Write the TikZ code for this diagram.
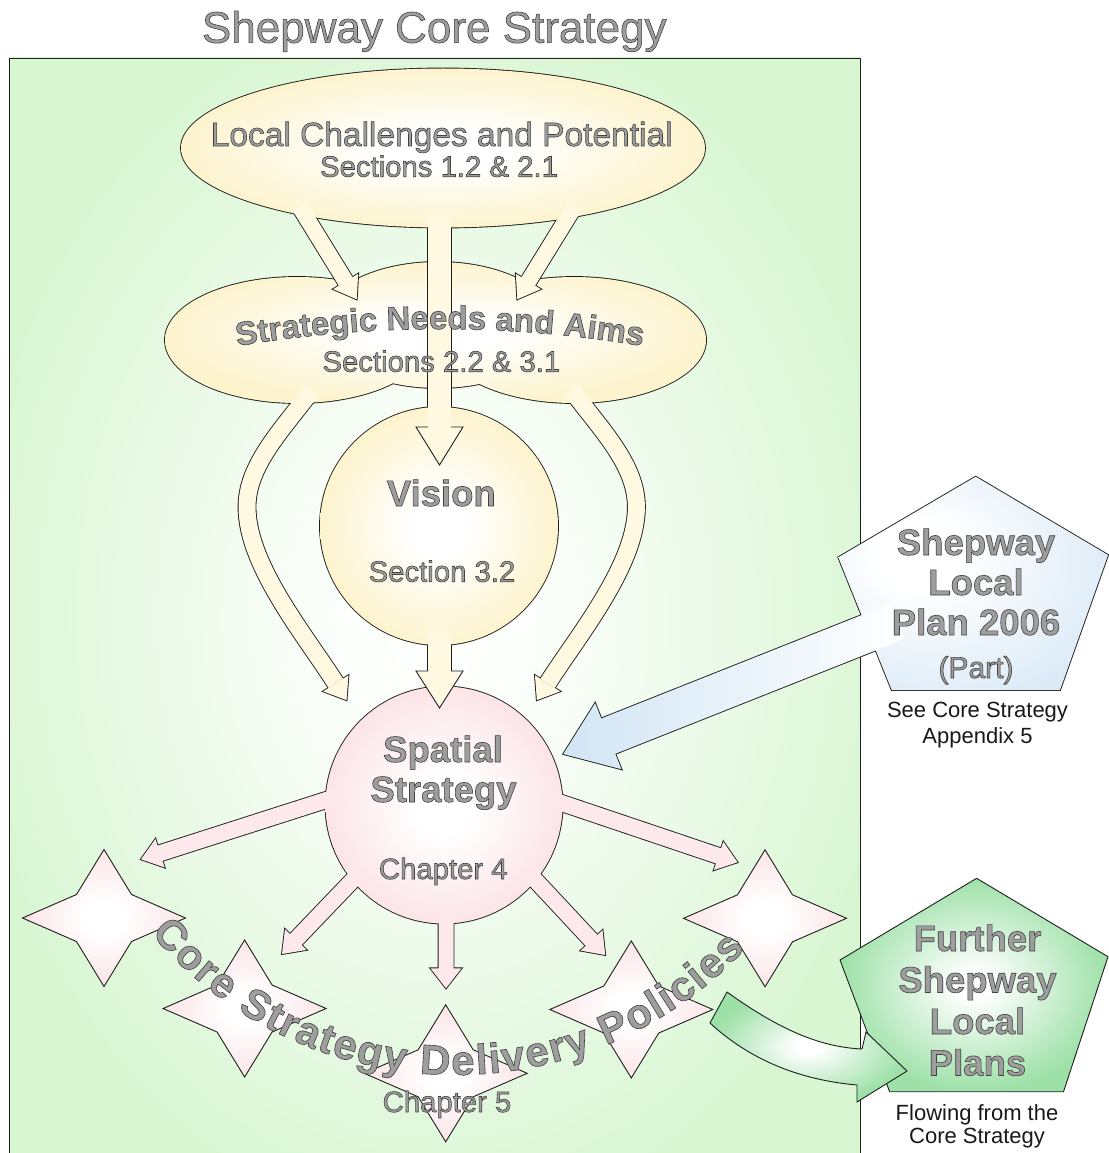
\documentclass[tikz,border=0pt]{standalone}
\usepackage{fontspec}
\setmainfont{Liberation Sans}
\usetikzlibrary{calc,decorations.text}

\definecolor{bggreen}{RGB}{216,246,210}
\definecolor{creamY}{RGB}{253,244,206}
\definecolor{arrowY}{RGB}{255,249,226}
\definecolor{pinkP}{RGB}{252,228,231}
\definecolor{arrowP}{RGB}{253,233,235}
\definecolor{blueB}{RGB}{210,229,245}
\definecolor{greenG}{RGB}{158,225,168}
\definecolor{txtfill}{RGB}{158,158,158}
\definecolor{lineC}{RGB}{30,30,30}
\definecolor{capC}{RGB}{25,25,25}

\pgfdeclareradialshading{glowBG}{\pgfpoint{0bp}{0bp}}{color(0bp)=(white); color(8bp)=(white!85!bggreen); color(28bp)=(bggreen); color(50bp)=(bggreen)}
\pgfdeclareradialshading{glowY}{\pgfpoint{0bp}{0bp}}{color(0bp)=(white); color(6bp)=(white); color(25bp)=(creamY); color(50bp)=(creamY)}
\pgfdeclareradialshading{glowP}{\pgfpoint{0bp}{0bp}}{color(0bp)=(white); color(6bp)=(white); color(25bp)=(pinkP); color(50bp)=(pinkP)}
\pgfdeclareradialshading{glowG}{\pgfpoint{0bp}{0bp}}{color(0bp)=(white); color(3bp)=(white); color(25bp)=(greenG); color(50bp)=(greenG)}
\pgfdeclareradialshading{glowB}{\pgfpoint{-12bp}{8bp}}{color(0bp)=(white); color(8bp)=(white); color(40bp)=(blueB); color(60bp)=(blueB)}

\newcommand\olon{\special{pdf:literal direct 2 Tr 0.6 w 0.25 0.25 0.25 RG}}
\newcommand\oloff{\special{pdf:literal direct 0 Tr}}
\newcommand\ot[1]{\olon#1\oloff}

% straight block arrow: style, start, tip, shaft half width, head half width, head length
\newcommand\arrowshape[6]{%
  \coordinate (aB) at ($(#3)!#6pt!(#2)$);
  \path[#1] ($(#2)!#4pt!90:(#3)$) -- ($(aB)!#4pt!90:(#3)$) -- ($(aB)!#5pt!90:(#3)$) -- (#3)
     -- ($(aB)!#5pt!-90:(#3)$) -- ($(aB)!#4pt!-90:(#3)$) -- ($(#2)!#4pt!-90:(#3)$) -- cycle;}

\newcommand\fourstar[1]{%
  \shadedraw[starst] ($(#1)+(0,-68.5)$) -- ($(#1)+(27.5,-23.5)$) -- ($(#1)+(81.5,0)$) -- ($(#1)+(27.5,23.5)$)
   -- ($(#1)+(0,68.5)$) -- ($(#1)+(-27.5,23.5)$) -- ($(#1)+(-81.5,0)$) -- ($(#1)+(-27.5,-23.5)$) -- cycle;}

\begin{document}
\begin{tikzpicture}[x=1pt,y=-1pt,
  outl/.style={draw=lineC,line width=1.8pt,line join=miter},
  thinln/.style={draw=lineC,line width=0.9pt,line join=miter},
  starst/.style={shading=glowP,draw=lineC,line width=0.9pt,line join=miter},
  lbl/.style={anchor=base,inner sep=0pt,text=txtfill},
  capt/.style={anchor=base,inner sep=0pt,text=capC,font=\fontsize{22}{22}\selectfont},
  big/.style={font=\fontsize{36.5}{40}\selectfont\bfseries},
  sub/.style={font=\fontsize{29.3}{33}\selectfont}]
\useasboundingbox (0,0) rectangle (1108,1153);
\fill[white] (0,0) rectangle (1108,1153);

% background panel
\shadedraw[shading=glowBG,draw=lineC,line width=0.9pt] (9,58) rectangle (860,1175);

% ---------- coordinates ----------
\coordinate (lc) at (443,148);
\coordinate (vis) at (439,526);
\coordinate (spa) at (444,805);
% curved arrows (left)
\coordinate (cl0) at (312,390); \coordinate (cl1) at (282,430); \coordinate (cl2) at (247,465);
\coordinate (cl3) at (247,507); \coordinate (cl4) at (247,565); \coordinate (cl5) at (305,635);
\coordinate (cl6) at (335.8,683.3);
\coordinate (clT) at ($(cl6)!-20pt!(cl5)$);
\coordinate (clA) at ($(cl6)!15pt!90:(clT)$); \coordinate (clB) at ($(cl6)!15pt!-90:(clT)$);
% curved arrows (right)
\coordinate (cr0) at (571.4,390); \coordinate (cr1) at (601.4,430); \coordinate (cr2) at (636.4,465);
\coordinate (cr3) at (636.4,507); \coordinate (cr4) at (636.4,565); \coordinate (cr5) at (578.4,635);
\coordinate (cr6) at (547.6,683.3);
\coordinate (crT) at ($(cr6)!-20pt!(cr5)$);
\coordinate (crA) at ($(cr6)!15pt!90:(crT)$); \coordinate (crB) at ($(cr6)!15pt!-90:(crT)$);
% diagonal arrows
\coordinate (dlS) at (299.2,206); \coordinate (dlT) at (356.7,299.3);
\coordinate (drS) at (574.8,206); \coordinate (drT) at (517.3,299.3);
% spatial outward arrows
\coordinate (o1S) at (334,797.5);   \coordinate (o1T) at (141,859.3);
\coordinate (o2S) at (357.8,874.8); \coordinate (o2T) at (282,954);
\coordinate (o3S) at (446,912);     \coordinate (o3T) at (446,988.3);
\coordinate (o4S) at (530.3,874.7); \coordinate (o4T) at (605.2,955);
\coordinate (o5S) at (553,800.1);   \coordinate (o5T) at (737.5,862.3);
% blue
\coordinate (bp1) at (975.7,476.7); \coordinate (bp2) at (1108,555); \coordinate (bp3) at (1060,690);
\coordinate (bp4) at (891.7,690); \coordinate (bp5) at (838.3,557.3);
\coordinate (bS) at (897.7,621.2); \coordinate (bT) at (563.3,754);
% green
\coordinate (gp1) at (976.6,878.3); \coordinate (gp2) at (1108,956.7); \coordinate (gp3) at (1063.5,1091.7);
\coordinate (gp4) at (889.6,1091.7); \coordinate (gp5) at (840,960);
% stars
\coordinate (st1) at (104,918); \coordinate (st2) at (244.6,1008.5); \coordinate (st3) at (445.7,1073.3);
\coordinate (st4) at (631.3,1009.5); \coordinate (st5) at (765,918.3);

% ---------- group 1 : strategic needs ----------
\draw[outl] (297,340) ellipse[x radius=132,y radius=63] (438,325) ellipse[x radius=118,y radius=63] (574,340) ellipse[x radius=132,y radius=63];
\draw[draw=lineC,line width=18.8pt] (cl0) .. controls (cl1) and (cl2) .. (cl3) .. controls (cl4) and (cl5) .. (cl6);
\draw[draw=lineC,line width=18.8pt] (cr0) .. controls (cr1) and (cr2) .. (cr3) .. controls (cr4) and (cr5) .. (cr6);
\draw[outl] (clA) -- (clT) -- (clB) -- cycle;
\draw[outl] (crA) -- (crT) -- (crB) -- cycle;
\shade[shading=glowY] (297,340) ellipse[x radius=132,y radius=63] (438,325) ellipse[x radius=118,y radius=63] (574,340) ellipse[x radius=132,y radius=63];
\draw[arrowY,line width=17pt] (cl0) .. controls (cl1) and (cl2) .. (cl3) .. controls (cl4) and (cl5) .. (cl6);
\draw[arrowY,line width=17pt] (cr0) .. controls (cr1) and (cr2) .. (cr3) .. controls (cr4) and (cr5) .. (cr6);
\fill[arrowY] (clA) -- (clT) -- (clB) -- cycle;
\fill[arrowY] (crA) -- (crT) -- (crB) -- cycle;

% ---------- group 2 : challenges, vision, spatial ----------
\draw[outl] (lc) ellipse[x radius=262,y radius=79.5];
\arrowshape{outl}{dlS}{dlT}{8}{14.7}{21}
\arrowshape{outl}{drS}{drT}{8}{14.7}{21}
\draw[outl] (428,215) rectangle (451,432);
\draw[outl] (vis) circle[radius=119];
\draw[outl] (428,630) rectangle (451,676);
\draw[outl] (spa) circle[radius=118.5];
\arrowshape{outl}{o1S}{o1T}{8}{15}{20}
\arrowshape{outl}{o2S}{o2T}{8}{15}{20}
\arrowshape{outl}{o3S}{o3T}{7.5}{15.5}{20}
\arrowshape{outl}{o4S}{o4T}{8}{15}{20}
\arrowshape{outl}{o5S}{o5T}{8}{15}{20}
\shade[shading=glowY] (lc) ellipse[x radius=262,y radius=79.5];
\shade[shading=glowY] (vis) circle[radius=119];
\shade[shading=glowP] (spa) circle[radius=118.5];
\arrowshape{fill=arrowY}{dlS}{dlT}{8}{14.7}{21}
\arrowshape{fill=arrowY}{drS}{drT}{8}{14.7}{21}
\fill[arrowY] (428,215) rectangle (451,432);
\fill[arrowY] (428,630) rectangle (451,676);
\arrowshape{fill=arrowP}{o1S}{o1T}{8}{15}{20}
\arrowshape{fill=arrowP}{o2S}{o2T}{8}{15}{20}
\arrowshape{fill=arrowP}{o3S}{o3T}{7.5}{15.5}{20}
\arrowshape{fill=arrowP}{o4S}{o4T}{8}{15}{20}
\arrowshape{fill=arrowP}{o5S}{o5T}{8}{15}{20}
% heads entering the circles
\fill[arrowY] (428,427) -- (416,427) -- (439.5,465) -- (463,427) -- (451,427) -- cycle;
\draw[thinln] (428,427) -- (416,427) -- (439.5,465) -- (463,427) -- (451,427);
\fill[arrowY] (428,671) -- (416,671) -- (439.5,708) -- (463,671) -- (451,671) -- cycle;
\draw[thinln] (428,671) -- (416,671) -- (439.5,708) -- (463,671) -- (451,671);

% ---------- group 3 : local plan 2006 ----------
\draw[outl] (bp1) -- (bp2) -- (bp3) -- (bp4) -- (bp5) -- cycle;
\arrowshape{outl}{bS}{bT}{19}{35.6}{48.4}
\shade[shading=glowB] (bp1) -- (bp2) -- (bp3) -- (bp4) -- (bp5) -- cycle;
\arrowshape{shade,left color=blueB,right color=white}{bS}{bT}{19}{35.6}{48.4}

% ---------- stars ----------
\fourstar{st1}
\fourstar{st2}
\fourstar{st3}
\fourstar{st4}
\fourstar{st5}

% ---------- group 5 : further plans ----------
\shadedraw[shading=glowG,thinln] (gp1) -- (gp2) -- (gp3) -- (gp4) -- (gp5) -- cycle;
\coordinate (ga1) at (727,992); \coordinate (ga2) at (862,1049); \coordinate (ga3) at (866,1032);
\coordinate (ga4) at (907,1071); \coordinate (ga5) at (857,1102); \coordinate (ga6) at (857,1085);
\coordinate (ga7) at (710,1023);
\shadedraw[shading=glowG,thinln] (ga1) .. controls (780,1030) and (820,1047) .. (ga2) -- (ga3) -- (ga4) -- (ga5) -- (ga6) .. controls (800,1080) and (750,1060) .. (ga7) -- cycle;

% ---------- texts ----------
\node[lbl,font=\fontsize{44}{44}\selectfont] (title) at (434.3,42.7) {\ot{Shepway Core Strategy}};
\node[lbl,font=\fontsize{33.5}{36}\selectfont] (lc1) at (441.7,146) {\ot{Local Challenges and Potential}};
\node[lbl,sub] (lc2) at (439,176.7) {\ot{Sections 1.2 \& 2.1}};
\path[decorate,decoration={text along path,text align=center,
  text={|\fontsize{33}{33}\selectfont\bfseries\color{txtfill}\olon|Strategic Needs and Aims}}]
  plot[domain=258:282,samples=40] ({440+1220*cos(\x)},{1549+1220*sin(\x)});
\node[lbl,sub] (sn2) at (441.4,371.7) {\ot{Sections 2.2 \& 3.1}};
\node[lbl,big] (vi1) at (441.3,506) {\ot{Vision}};
\node[lbl,sub] (vi2) at (442,581.7) {\ot{Section 3.2}};
\node[lbl,big] (sp1) at (443,762) {\ot{Spatial}};
\node[lbl,big] (sp2) at (443.5,802) {\ot{Strategy}};
\node[lbl,sub] (sp3) at (443.3,879) {\ot{Chapter 4}};
\node[lbl,big] (lp1) at (976,555) {\ot{Shepway}};
\node[lbl,big] (lp2) at (976,595) {\ot{Local}};
\node[lbl,big] (lp3) at (976,635) {\ot{Plan 2006}};
\node[lbl,font=\fontsize{30}{30}\selectfont] (lp4) at (976,678) {\ot{(Part)}};
\node[capt] (lpc1) at (977.5,717) {See Core Strategy};
\node[capt] (lpc2) at (977.5,743) {Appendix 5};
\node[lbl,big] (fp1) at (977.5,951) {\ot{Further}};
\node[lbl,big] (fp2) at (977.5,992.5) {\ot{Shepway}};
\node[lbl,big] (fp3) at (977.5,1034) {\ot{Local}};
\node[lbl,big] (fp4) at (977.5,1075.5) {\ot{Plans}};
\node[capt] (fpc1) at (977,1120) {Flowing from the};
\node[capt] (fpc2) at (977,1143) {Core Strategy};
\path[decorate,decoration={text along path,text align=fit to path,
  text={|\fontsize{42}{42}\selectfont\bfseries\color{txtfill}\olon|Core Strategy Delivery Policies}}]
  plot[domain=140:43,samples=60] ({455+397*cos(\x)},{678+397*sin(\x)});
\node[lbl,sub] (ch5) at (447,1112) {\ot{Chapter 5}};
\end{tikzpicture}
\end{document}
